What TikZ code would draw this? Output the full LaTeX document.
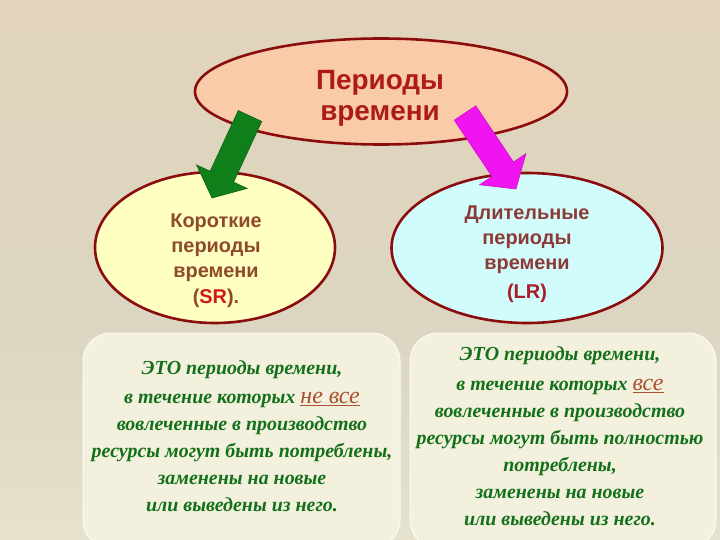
\documentclass[tikz,border=0pt]{standalone}
\usepackage{fontspec}
\setmainfont{Liberation Serif}
\setsansfont{Liberation Sans}
\usetikzlibrary{calc,shapes.geometric}
\definecolor{bgtop}{HTML}{F3D6B8}
\definecolor{bgup}{HTML}{E2D4BB}
\definecolor{bgmid}{HTML}{DBD5C1}
\definecolor{bgbot}{HTML}{F3F1DA}
\definecolor{rim}{HTML}{8A0C0C}
\definecolor{peach}{HTML}{F9CBA8}
\definecolor{lyellow}{HTML}{FFFFC2}
\definecolor{lcyan}{HTML}{D2FBFC}
\definecolor{titlered}{HTML}{AC1A1A}
\definecolor{brownA}{HTML}{8E4A2A}
\definecolor{brownB}{HTML}{8C3A36}
\definecolor{srred}{HTML}{D01818}
\definecolor{lrred}{HTML}{A81E28}
\definecolor{txtgreen}{HTML}{13701A}
\definecolor{accent}{HTML}{A8502F}
\definecolor{boxfill}{HTML}{F3F1DE}
\definecolor{arrgreen}{HTML}{0F7F1A}
\definecolor{arrmag}{HTML}{F014F0}
\pgfdeclareverticalshading{bgshade}{100bp}{color(0bp)=(bgbot); color(45bp)=(bgmid); color(75bp)=(bgup); color(100bp)=(bgtop)}
\newcommand\myblockarrow[4]{%
  \coordinate (ba-h) at ($(#1)!0.74!(#2)$);
  \filldraw[fill=#3,draw=#4,line width=0.6bp,line join=miter]
    ($(#1)!13pt!90:(#2)$) -- ($(ba-h)!13pt!90:(#2)$) -- ($(ba-h)!28pt!90:(#2)$)
    -- (#2) -- ($(ba-h)!28pt!-90:(#2)$) -- ($(ba-h)!13pt!-90:(#2)$)
    -- ($(#1)!13pt!-90:(#2)$) -- cycle;}
\tikzset{
  oval/.style={ellipse, draw=rim, line width=2.6bp, inner sep=0pt},
  ovaltext/.style={font=\sffamily\bfseries\fontsize{20}{25}\selectfont, align=center, inner sep=0pt},
  infobox/.style={fill=boxfill, draw=white!70!boxfill, line width=1bp, rounded corners=28bp},
  infotext/.style={font=\rmfamily\bfseries\itshape\fontsize{20}{27}\selectfont, text=txtgreen, align=center, inner sep=0pt}
}
\newcommand\hlword[1]{{\fontsize{24}{27}\selectfont\mdseries\textcolor{accent}{\underline{#1}}}}
\begin{document}
\begin{tikzpicture}[x=1bp,y=-1bp]
\useasboundingbox (0,0) rectangle (720,540);
\shade[shading=bgshade] (0,0) rectangle (720,540);

% boxes
\path[infobox] (83,333) rectangle (400,548);
\path[infobox] (410,333) rectangle (716,548);

% ellipses
\node[oval, fill=peach, minimum width=372bp, minimum height=106bp] (top) at (381,91.5) {};
\node[oval, fill=lyellow, minimum width=240bp, minimum height=151bp] (short) at (215,247.5) {};
\node[oval, fill=lcyan, minimum width=271bp, minimum height=150bp] (long) at (527,248) {};

\node[ovaltext, text=titlered, font=\sffamily\bfseries\fontsize{28}{31}\selectfont] (ttl) at (380,98) {Периоды\\времени};
\node[ovaltext, text=brownA] (stxt) at (216,261) {Короткие\\периоды\\времени\\[1bp](\textcolor{srred}{SR}).};
\node[ovaltext, text=brownB] (ltxt) at (527,254) {Длительные\\периоды\\времени\\[4bp]\textcolor{lrred}{(LR)}};

% arrows
\coordinate (ga) at (250,116);
\coordinate (gb) at (212,198);
\coordinate (ma) at (465,113);
\coordinate (mb) at (516,189);
\myblockarrow{ga}{gb}{arrgreen}{arrgreen!80!black}
\myblockarrow{ma}{mb}{arrmag}{arrmag!85!black}

% texts
\node[infotext] (sinfo) at (242,436) {ЭТО периоды времени,\\[3bp]
в течение которых \hlword{не все}\\
вовлеченные в производство\\
ресурсы могут быть потреблены,\\
заменены на новые\\
или выведены из него.};
\node[infotext] (linfo) at (560,436) {ЭТО периоды времени,\\[4bp]
в течение которых \hlword{все}\\
вовлеченные в производство\\
ресурсы могут быть полностью\\
потреблены,\\
заменены на новые\\
или выведены из него.};
\end{tikzpicture}
\end{document}
